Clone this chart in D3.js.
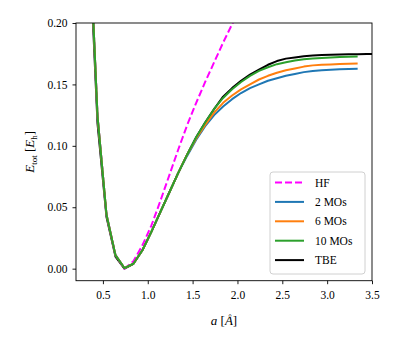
<!DOCTYPE html>
<html>
<head>
<meta charset="utf-8">
<script src="https://cdn.jsdelivr.net/npm/d3@7"></script>
<style>
  html, body { margin: 0; padding: 0; background: #fff; }
  svg { display: block; }
</style>
</head>
<body>
<div id="chart"></div>
<script>
// bond length a [Å]
const A = [0.34, 0.44, 0.54, 0.64, 0.74, 0.84, 0.94, 1.04, 1.14, 1.24, 1.34, 1.44, 1.54, 1.64,
  1.74, 1.84, 1.94, 2.04, 2.14, 2.24, 2.34, 2.44, 2.54, 2.64, 2.74, 2.84, 2.94, 3.04, 3.14, 3.24, 3.34];
const A_TBE = A.concat([3.44, 3.54]);

const HF = [0.29, 0.124, 0.044, 0.011, 0.0, 0.006, 0.019, 0.035, 0.055, 0.076, 0.097, 0.117, 0.135,
  0.152, 0.168, 0.184, 0.199, 0.214, 0.229, 0.244, 0.258, 0.272, 0.286, 0.299, 0.312, 0.324, 0.336,
  0.347, 0.358, 0.368, 0.378];
const MO2 = [0.29, 0.124, 0.044, 0.011, 0.0005, 0.004, 0.015, 0.030, 0.046, 0.062, 0.078, 0.092,
  0.105, 0.116, 0.125, 0.132, 0.138, 0.143, 0.147, 0.150, 0.153, 0.155, 0.157, 0.1585, 0.160, 0.161,
  0.1615, 0.162, 0.1623, 0.1626, 0.1628];
const MO6 = [0.29, 0.124, 0.044, 0.011, 0.0005, 0.004, 0.015, 0.030, 0.046, 0.062, 0.078, 0.093,
  0.106, 0.117, 0.127, 0.135, 0.141, 0.146, 0.150, 0.154, 0.157, 0.1595, 0.1615, 0.163, 0.1645, 0.1655,
  0.166, 0.1663, 0.1666, 0.1668, 0.167];
const MO10 = [0.29, 0.124, 0.044, 0.011, 0.0005, 0.004, 0.015, 0.030, 0.046, 0.062, 0.078, 0.093,
  0.107, 0.119, 0.130, 0.139, 0.146, 0.152, 0.157, 0.161, 0.164, 0.1665, 0.168, 0.1695, 0.1705, 0.171,
  0.1715, 0.172, 0.1723, 0.1725, 0.1727];
const TBE = [0.28, 0.118, 0.042, 0.0098, 0.0, 0.004, 0.015, 0.030, 0.046, 0.062, 0.078, 0.093,
  0.107, 0.119, 0.130, 0.140, 0.147, 0.153, 0.158, 0.162, 0.166, 0.169, 0.171, 0.172, 0.173, 0.1735,
  0.174, 0.1742, 0.1744, 0.1745, 0.1746, 0.1747, 0.1747];

const X_TICKS = [0.5, 1.0, 1.5, 2.0, 2.5, 3.0, 3.5];
const Y_TICKS = [0.00, 0.05, 0.10, 0.15, 0.20];

// draw order: TBE underneath, then HF, then MOs
const SERIES = [
  { name: 'TBE', xs: A_TBE, ys: TBE, color: '#000000', dash: null },
  { name: 'HF', xs: A, ys: HF, color: '#ff00ff', dash: '7,3' },
  { name: '2 MOs', xs: A, ys: MO2, color: '#1f77b4', dash: null },
  { name: '6 MOs', xs: A, ys: MO6, color: '#ff7f0e', dash: null },
  { name: '10 MOs', xs: A, ys: MO10, color: '#2ca02c', dash: null },
];
const LEGEND_ORDER = ['HF', '2 MOs', '6 MOs', '10 MOs', 'TBE'];

const FONT = "'Liberation Serif', 'Times New Roman', 'DejaVu Serif', serif";

const W = 399, H = 349;
const margin = { top: 23, right: 27, bottom: 68.3, left: 76 };
const innerW = W - margin.left - margin.right;
const innerH = H - margin.top - margin.bottom;

const svg = d3.select('#chart').append('svg')
  .attr('width', W).attr('height', H)
  .style('font-family', FONT);

const x = d3.scaleLinear().domain([0.2, 3.5]).range([0, innerW]);
const y = d3.scaleLinear().domain([-0.0098, 0.2]).range([innerH, 0]);

svg.append('defs').append('clipPath').attr('id', 'clip')
  .append('rect').attr('width', innerW).attr('height', innerH);

const g = svg.append('g').attr('transform', `translate(${margin.left},${margin.top})`);

const line = d3.line().x(d => d[0]).y(d => d[1]);

const plot = g.append('g').attr('clip-path', 'url(#clip)');
SERIES.forEach(s => {
  const pts = s.xs.map((a, i) => [x(a), y(s.ys[i])]);
  plot.append('path')
    .attr('d', line(pts))
    .attr('fill', 'none')
    .attr('stroke', s.color)
    .attr('stroke-width', 2)
    .attr('stroke-linejoin', 'round')
    .attr('stroke-dasharray', s.dash);
});

// axes
const xAxis = g.append('g')
  .attr('transform', `translate(0,${innerH})`)
  .call(d3.axisBottom(x).tickValues(X_TICKS).tickFormat(d3.format('.1f')).tickSize(3.5).tickPadding(4));
const yAxis = g.append('g')
  .call(d3.axisLeft(y).tickValues(Y_TICKS).tickFormat(d3.format('.2f')).tickSize(3.5).tickPadding(5));

[xAxis, yAxis].forEach(ax => {
  ax.attr('font-family', null).style('font-family', FONT);
  ax.select('.domain').remove();
  ax.selectAll('.tick line').attr('stroke', '#000').attr('stroke-width', 0.9);
  ax.selectAll('.tick text')
    .attr('font-size', 11.5)
    .attr('fill', '#000');
});
xAxis.selectAll('.tick text').attr('dy', '0.95em');

// frame
g.append('rect')
  .attr('width', innerW).attr('height', innerH)
  .attr('fill', 'none').attr('stroke', '#000').attr('stroke-width', 0.9);

// axis labels
const xl = svg.append('text')
  .attr('x', margin.left + innerW / 2).attr('y', 325)
  .attr('text-anchor', 'middle').attr('font-size', 13);
xl.append('tspan').attr('font-style', 'italic').text('a');
xl.append('tspan').text(' [');
xl.append('tspan').attr('font-style', 'italic').text('Å');
xl.append('tspan').text(']');

const yl = svg.append('text')
  .attr('transform', `translate(34,${margin.top + innerH / 2}) rotate(-90)`)
  .attr('text-anchor', 'middle').attr('font-size', 13);
yl.append('tspan').attr('font-style', 'italic').text('E');
yl.append('tspan').attr('font-size', 9).attr('dy', 3).text('tot');
yl.append('tspan').attr('dy', -3).text(' [');
yl.append('tspan').attr('font-style', 'italic').text('E');
yl.append('tspan').attr('font-size', 9).attr('dy', 3).text('h');
yl.append('tspan').attr('dy', -3).text(']');

// legend
const lg = svg.append('g').attr('transform', 'translate(270,172)');
lg.append('rect')
  .attr('width', 95).attr('height', 102).attr('rx', 3)
  .attr('fill', '#fff').attr('fill-opacity', 0.8)
  .attr('stroke', '#d0d0d0').attr('stroke-width', 1);
LEGEND_ORDER.forEach((name, i) => {
  const s = SERIES.find(d => d.name === name);
  const yy = 10.5 + i * 19.4;
  lg.append('line')
    .attr('x1', 5).attr('x2', 34).attr('y1', yy).attr('y2', yy)
    .attr('stroke', s.color).attr('stroke-width', 2)
    .attr('stroke-dasharray', s.dash);
  lg.append('text')
    .attr('x', 45).attr('y', yy).attr('dy', '0.35em')
    .attr('font-size', 11.5).attr('fill', '#000')
    .text(name);
});
</script>
</body>
</html>
